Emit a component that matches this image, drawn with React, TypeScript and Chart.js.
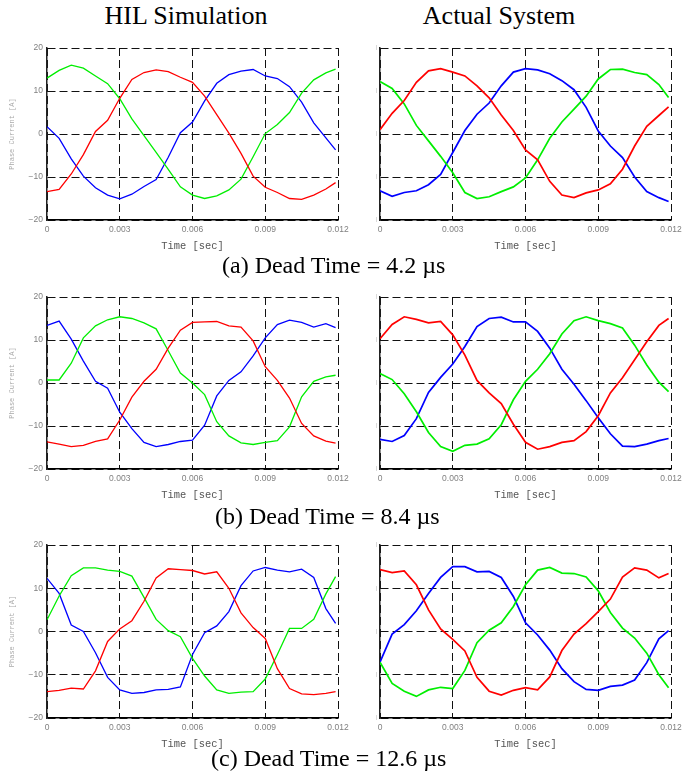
import React, { useEffect, useRef } from "react";
import { Chart, registerables } from "chart.js";

Chart.register(...registerables);

// ---------- data ----------
const TIME_MS = [0, 0.5, 1, 1.5, 2, 2.5, 3, 3.5, 4, 4.5, 5, 5.5, 6, 6.5, 7, 7.5, 8, 8.5, 9, 9.5, 10, 10.5, 11, 11.5, 11.9];

const X_TICKS = [0, 0.003, 0.006, 0.009, 0.012];
const X_TICK_LABELS = ["0", "0.003", "0.006", "0.009", "0.012"];
const Y_TICKS = [-20, -10, 0, 10, 20];
const Y_TICK_LABELS = ["\u221220", "\u221210", "0", "10", "20"];

// (a) Dead Time = 4.2 us
const A_HIL_RED = [-13.4, -12.9, -9.3, -4.8, 0.6, 3.2, 8.3, 12.7, 14.3, 14.9, 14.5, 13.2, 12.0, 8.8, 4.5, 0.2, -4.5, -9.8, -12.4, -13.6, -15.0, -15.2, -14.2, -12.8, -11.3];
const A_HIL_GREEN = [13.0, 14.8, 16.0, 15.3, 13.5, 11.7, 8.2, 3.5, -0.4, -4.3, -8.2, -12.3, -14.2, -15.0, -14.4, -13.0, -10.5, -5.3, 0.1, 2.2, 5.0, 9.5, 12.6, 14.2, 15.1];
const A_HIL_BLUE = [1.7, -1.0, -5.8, -9.8, -12.5, -14.2, -15.1, -14.0, -12.2, -10.6, -5.4, 0.3, 2.8, 7.7, 11.8, 13.8, 14.6, 15.0, 13.5, 12.9, 11.0, 7.4, 2.6, -0.9, -3.7];
const A_ACT_RED = [1.0, 4.8, 7.8, 12.0, 14.7, 15.2, 14.4, 13.5, 11.2, 8.4, 4.4, 0.8, -3.7, -6.0, -11.0, -14.2, -14.8, -13.7, -13.0, -11.6, -8.2, -2.8, 1.8, 4.3, 6.3];
const A_ACT_GREEN = [12.2, 10.6, 7.0, 2.0, -1.6, -5.2, -9.0, -13.6, -15.0, -14.6, -13.4, -12.3, -10.2, -6.0, -1.0, 2.8, 5.8, 8.8, 12.8, 15.0, 15.1, 14.3, 13.8, 11.5, 8.5];
const A_ACT_BLUE = [-13.2, -14.5, -13.6, -13.2, -11.8, -9.4, -4.3, 0.8, 4.6, 7.2, 11.2, 14.4, 15.2, 14.9, 14.0, 12.4, 10.3, 6.2, 0.7, -2.8, -5.5, -10.0, -13.4, -14.8, -15.7];

// (b) Dead Time = 8.4 us
const B_HIL_RED = [-13.7, -14.2, -14.8, -14.5, -13.6, -13.0, -8.6, -3.3, 0.4, 3.2, 8.1, 12.3, 14.1, 14.2, 14.3, 13.3, 13.0, 9.8, 3.8, 0.6, -3.5, -9.4, -12.3, -13.5, -14.0];
const B_HIL_GREEN = [0.7, 0.7, 4.6, 10.5, 13.3, 14.7, 15.4, 15.0, 14.0, 12.6, 7.5, 2.3, 0.0, -2.7, -9.0, -12.3, -13.9, -14.3, -13.8, -13.4, -10.2, -3.2, 0.4, 1.4, 1.8];
const B_HIL_BLUE = [13.4, 14.4, 10.2, 5.1, 0.4, -1.2, -6.8, -10.6, -13.8, -14.8, -14.3, -13.6, -13.3, -9.8, -3.0, 0.6, 2.6, 6.3, 10.5, 13.6, 14.6, 14.1, 13.0, 13.8, 12.9];
const B_ACT_RED = [10.3, 13.6, 15.4, 14.8, 14.0, 14.3, 11.2, 6.5, 0.6, -2.3, -4.8, -9.6, -13.8, -15.4, -14.8, -13.8, -13.4, -11.3, -7.6, -2.3, 1.2, 5.4, 9.6, 13.4, 15.0];
const B_ACT_GREEN = [2.2, 0.8, -2.5, -6.7, -11.5, -14.8, -15.9, -14.5, -14.2, -13.0, -9.7, -3.9, 0.4, 3.2, 6.8, 11.4, 14.5, 15.4, 14.5, 13.8, 12.8, 8.8, 4.2, 0.2, -2.0];
const B_ACT_BLUE = [-13.1, -13.6, -12.2, -8.3, -2.2, 1.3, 4.4, 8.5, 13.1, 15.0, 15.3, 14.2, 14.2, 12.0, 8.1, 3.2, -0.3, -4.1, -8.1, -11.8, -14.7, -14.8, -14.2, -13.4, -12.9];

// (c) Dead Time = 12.6 us
const C_HIL_RED = [-13.9, -13.6, -13.1, -13.3, -9.1, -2.3, 0.6, 2.5, 7.0, 12.4, 14.5, 14.3, 14.1, 13.3, 13.8, 10.0, 4.3, 0.9, -1.6, -8.6, -13.2, -14.4, -14.6, -14.3, -13.9];
const C_HIL_GREEN = [2.7, 8.2, 12.9, 14.7, 14.7, 14.2, 13.9, 12.8, 7.9, 2.8, 0.2, -1.2, -6.2, -10.3, -13.5, -14.3, -14.0, -13.9, -11.0, -5.3, 0.7, 0.7, 2.8, 8.7, 12.7];
const C_HIL_BLUE = [12.3, 8.8, 1.5, 0.0, -4.9, -10.6, -13.5, -14.3, -14.1, -13.5, -13.4, -12.8, -5.3, -0.3, 1.3, 4.6, 10.6, 14.0, 14.8, 14.2, 13.8, 14.4, 12.5, 5.3, 1.9];
const C_ACT_RED = [14.3, 13.6, 14.0, 10.8, 5.0, 0.6, -1.8, -4.5, -10.6, -13.8, -14.7, -13.6, -13.0, -13.5, -10.5, -4.4, -0.6, 1.8, 4.6, 7.5, 12.6, 14.7, 14.2, 12.4, 13.4];
const C_ACT_GREEN = [-7.1, -12.0, -13.8, -15.0, -13.5, -12.9, -13.2, -9.0, -2.6, 0.3, 2.0, 5.8, 10.8, 14.2, 14.8, 13.5, 13.4, 12.6, 9.4, 4.4, 0.8, -1.5, -5.0, -10.0, -13.0];
const C_ACT_BLUE = [-7.1, -0.6, 1.6, 4.8, 8.8, 12.5, 15.0, 15.0, 13.8, 13.9, 12.5, 8.1, 2.0, -0.8, -4.3, -8.6, -11.6, -13.4, -13.6, -12.7, -12.4, -11.2, -7.2, -1.7, 0.2];

const COLUMN_TITLES = ["HIL Simulation", "Actual System"];
const CAPTIONS = ["(a) Dead Time = 4.2 \u00b5s", "(b) Dead Time = 8.4 \u00b5s", "(c) Dead Time = 12.6 \u00b5s"];
const X_TITLE = "Time [sec]";
const Y_TITLE = "Phase Current [A]";

// ---------- layout ----------
const ROWS = [
  { top: 48, bottom: 220, captionLeft: 222, captionBaseline: 273 },
  { top: 297, bottom: 469, captionLeft: 215, captionBaseline: 524 },
  { top: 545, bottom: 718, captionLeft: 211, captionBaseline: 766 },
];
const COLS = [
  { canvasLeft: 0, canvasWidth: 350, plotLeft: 47, plotRight: 338, labels: true, titleCenter: 186, lineWidth: 1.3 },
  { canvasLeft: 350, canvasWidth: 349, plotLeft: 380, plotRight: 671, labels: false, titleCenter: 499, lineWidth: 1.7 },
];
const PAD_TOP = 8;
const X_AXIS_H = 32;
const PAD_BOTTOM = 6;

const PANELS = [
  [[A_HIL_RED, A_HIL_GREEN, A_HIL_BLUE], [A_ACT_RED, A_ACT_GREEN, A_ACT_BLUE]],
  [[B_HIL_RED, B_HIL_GREEN, B_HIL_BLUE], [B_ACT_RED, B_ACT_GREEN, B_ACT_BLUE]],
  [[C_HIL_RED, C_HIL_GREEN, C_HIL_BLUE], [C_ACT_RED, C_ACT_GREEN, C_ACT_BLUE]],
];
const COLORS = ["#ff0000", "#00ee00", "#0000ff"];

const SERIF = "'Liberation Serif', 'Times New Roman', serif";
const SANS = "'Liberation Sans', Arial, sans-serif";
const MONO = "'Liberation Mono', 'Courier New', monospace";

function Panel({ series, row, col }: { series: number[][]; row: any; col: any }) {
  const ref = useRef<HTMLCanvasElement | null>(null);
  const plotH = row.bottom - row.top;
  const height = PAD_TOP + plotH + X_AXIS_H + PAD_BOTTOM;
  const yAxisW = col.plotLeft - col.canvasLeft;
  const padRight = col.canvasLeft + col.canvasWidth - col.plotRight;

  useEffect(() => {
    if (!ref.current) return;
    const datasets = series.map((vals, k) => ({
      data: TIME_MS.map((t, i) => ({ x: t / 1000, y: vals[i] })),
      borderColor: COLORS[k],
      backgroundColor: COLORS[k],
      borderWidth: col.lineWidth,
      pointRadius: 0,
      tension: 0,
      fill: false,
    }));
    const chart = new Chart(ref.current, {
      type: "line",
      data: { datasets },
      options: {
        animation: false,
        responsive: false,
        maintainAspectRatio: false,
        events: [],
        layout: { padding: { left: 0, top: PAD_TOP, right: padRight, bottom: PAD_BOTTOM } },
        plugins: { legend: { display: false }, tooltip: { enabled: false }, title: { display: false } },
        scales: {
          x: {
            type: "linear",
            min: 0,
            max: 0.012,
            afterBuildTicks: (s: any) => {
              s.ticks = X_TICKS.map((v) => ({ value: v }));
            },
            afterFit: (s: any) => {
              s.height = X_AXIS_H;
              s.paddingLeft = 0;
              s.paddingRight = 0;
            },
            ticks: {
              callback: (_v: any, i: number) => X_TICK_LABELS[i],
              font: { family: SANS, size: 8.5 },
              color: "#808080",
              padding: 5,
              maxRotation: 0,
              autoSkip: false,
            },
            grid: { color: "#111", lineWidth: 1, drawTicks: false },
            border: { display: true, color: "#000", width: 1.5, dash: [8, 4] },
            title: {
              display: true,
              text: X_TITLE,
              font: { family: MONO, size: 10.4 },
              color: "#555",
              padding: { top: 0, bottom: 0 },
            },
          },
          y: {
            type: "linear",
            min: -20,
            max: 20,
            afterBuildTicks: (s: any) => {
              s.ticks = Y_TICKS.map((v) => ({ value: v }));
            },
            afterFit: (s: any) => {
              s.width = yAxisW;
              s.paddingTop = 0;
              s.paddingBottom = 0;
            },
            ticks: {
              callback: (_v: any, i: number) => (col.labels ? Y_TICK_LABELS[i] : "|"),
              font: { family: SANS, size: col.labels ? 8.5 : 5 },
              color: col.labels ? "#808080" : "#aaa",
              padding: col.labels ? 4 : 3,
              autoSkip: false,
            },
            grid: { color: "#111", lineWidth: 1, drawTicks: false },
            border: { display: true, color: "#222", width: 1.5, dash: [8, 4] },
            title: col.labels
              ? {
                  display: true,
                  text: Y_TITLE,
                  font: { family: MONO, size: 7 },
                  color: "#aaa",
                  padding: { top: 7.8, bottom: 0 },
                }
              : { display: false },
          },
        },
      },
    } as any);
    return () => chart.destroy();
  }, []);

  return (
    <canvas
      ref={ref}
      width={col.canvasWidth}
      height={height}
      style={{
        position: "absolute",
        left: col.canvasLeft,
        top: row.top - PAD_TOP,
        width: col.canvasWidth,
        height,
      }}
    />
  );
}

function TextAt({ text, left, center, baseline, size }: any) {
  const top = baseline - 0.8375 * size;
  const style: any = {
    position: "absolute",
    top,
    fontFamily: SERIF,
    fontSize: size,
    lineHeight: `${size}px`,
    whiteSpace: "nowrap",
    color: "#000",
  };
  if (center !== undefined) {
    style.left = center;
    style.transform = "translateX(-50%)";
  } else {
    style.left = left;
  }
  return <div style={style}>{text}</div>;
}

export default function App() {
  useEffect(() => {
    document.body.style.margin = "0";
    document.body.style.background = "#fff";
  }, []);
  return (
    <div style={{ position: "absolute", left: 0, top: 0, width: 699, height: 778, background: "#fff", overflow: "hidden" }}>
      {COLS.map((c, j) => (
        <TextAt key={"t" + j} text={COLUMN_TITLES[j]} center={c.titleCenter} baseline={25} size={26} />
      ))}
      {ROWS.map((r, i) =>
        COLS.map((c, j) => <Panel key={`p${i}${j}`} series={PANELS[i][j]} row={r} col={c} />)
      )}
      {ROWS.map((r, i) => (
        <TextAt key={"c" + i} text={CAPTIONS[i]} left={r.captionLeft} baseline={r.captionBaseline} size={24} />
      ))}
    </div>
  );
}
